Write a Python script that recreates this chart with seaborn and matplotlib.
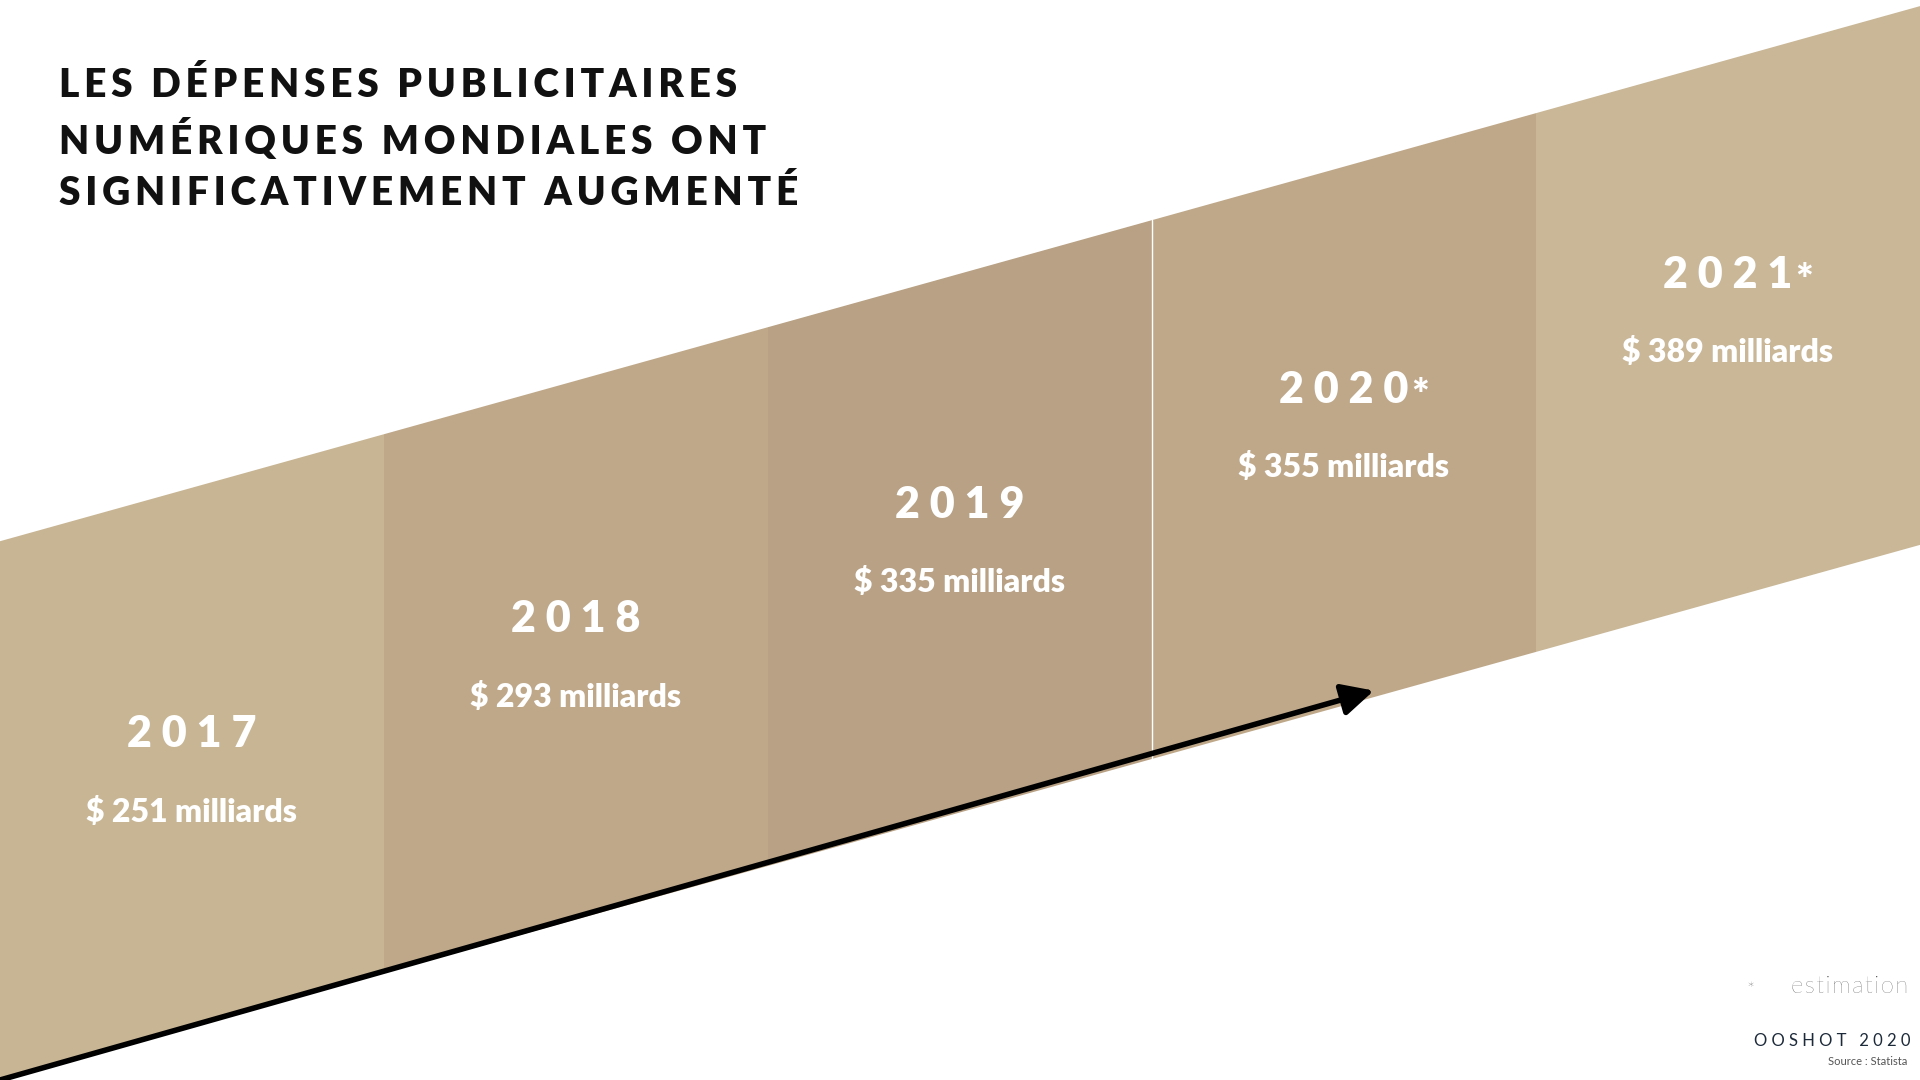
import numpy as np
import matplotlib.pyplot as plt
import seaborn as sns

# ── data ─────────────────────────────────────────────
years = ["2017", "2018", "2019", "2020", "2021"]
estimated = [False, False, False, True, True]
values = [251, 293, 335, 355, 389]
colors = ["#c8b594", "#bfa889", "#b8a184", "#bfa889", "#c9b797"]

W, H = 1568, 882
top0, slope, band_h = 442, -437 / 1568, 440

sns.set_theme(style="white")
fig = plt.figure(figsize=(19.2, 10.8), dpi=100)
ax = fig.add_axes([0, 0, 1, 1])
ax.set_xlim(0, W)
ax.set_ylim(H, 0)
ax.axis("off")

col_w = W / len(years)
top = lambda x: top0 + slope * x

def spaced(s, sep="\u2009"):
    return sep.join(s)

for i, (yr, est, val, c) in enumerate(zip(years, estimated, values, colors)):
    x0, x1 = i * col_w, (i + 1) * col_w
    ax.fill([x0, x1, x1, x0], [top(x0), top(x1), top(x1) + band_h, top(x0) + band_h],
            color=c, lw=0)
    cx = (x0 + x1) / 2
    ty = 1.074 * top(cx) + 172
    ax.text(cx, ty, " ".join(yr), ha="center", va="center", color="white",
            fontsize=31, fontweight="heavy", family="Lato")
    if est:
        ax.text(cx + 62, ty + 6, "*", ha="center", va="center", color="white",
                fontsize=30, fontweight="heavy", family="Lato")
    ax.text(cx, ty + 63, f"$ {val} milliards", ha="center", va="center",
            color="white", fontsize=23, fontweight="heavy", family="Lato")

# thin separator between 2019 and 2020
xs = 3 * col_w
ax.plot([xs, xs], [top(xs), top(xs) + band_h], color="white", lw=1)

# arrow along the bottom
ax.annotate("", xy=(1122, 564), xytext=(0, 882),
            arrowprops=dict(arrowstyle="-|>,head_length=1.6,head_width=0.8",
                            color="black", lw=4, shrinkA=0, shrinkB=0))

title = ["LES DÉPENSES PUBLICITAIRES", "NUMÉRIQUES MONDIALES ONT", "SIGNIFICATIVEMENT AUGMENTÉ"]
for k, line in enumerate(title):
    ax.text(48, 70 + 44 * k, spaced(line, "\u200a\u200a"), ha="left", va="center",
            fontsize=28, fontweight="heavy", family="Lato", color="#111111")

ax.text(1558, 806, spaced("estimation", "\u200a"), ha="right", va="center", fontsize=17,
        family="Lato", fontweight="light", color="#333333")
ax.text(1433, 809, "*", ha="right", va="center", fontsize=14,
        family="Lato", fontweight="light", color="#333333")
ax.text(1560, 850, "O O S H O T   2 0 2 0", ha="right", va="center", fontsize=12,
        family="Lato", color="#1d2a3a")
ax.text(1558, 867, "Source : Statista", ha="right", va="center", fontsize=8,
        family="Lato", color="#555555")

fig.savefig("out.png", dpi=100)
